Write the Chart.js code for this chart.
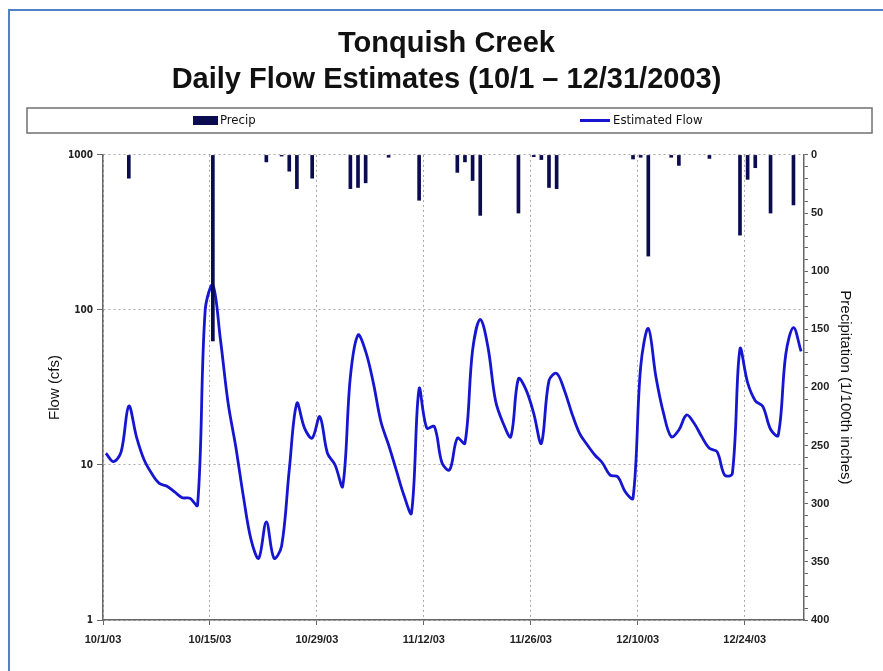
<!DOCTYPE html>
<html>
<head>
<meta charset="utf-8">
<title>Tonquish Creek Daily Flow</title>
<script src="https://cdn.jsdelivr.net/npm/chart.js@4.4.1/dist/chart.umd.min.js"></script>
<style>
  html, body { margin: 0; padding: 0; background: #fff; }
  canvas { display: block; }
</style>
</head>
<body>
<canvas id="flow-chart" width="883" height="671"></canvas>
<script>
// Days counted from 10/1/03; tick marks every two weeks
const tickDays = [0, 14, 28, 42, 56, 70, 84];
const tickLabels = ['10/1/03', '10/15/03', '10/29/03', '11/12/03', '11/26/03', '12/10/03', '12/24/03'];

// Estimated daily flow (cfs), 10/1/03 .. 12/31/03
const flowCfs = [
  11.9, 10.5, 12.2, 24, 15.2, 10.8, 8.8, 7.6, 7.3, 6.7,
  6.15, 6.1, 5.5, 100, 145, 64, 25, 13.1, 6.25, 3.3,
  2.5, 4.3, 2.5, 3.0, 9.3, 25, 17.3, 14.9, 20.5, 11.9,
  10, 7.3, 37, 69, 54, 34, 19, 13.5, 9.3, 6.4,
  4.9, 31, 17.3, 17.7, 10.3, 9.3, 14.9, 13.8, 55, 87,
  58, 26, 18.6, 15.2, 36, 30.5, 21.5, 13.8, 35, 39,
  30.5, 21.5, 16, 13.5, 11.6, 10.3, 8.6, 8.4, 6.7, 6.1,
  43, 76, 37, 21.5, 15.2, 16.8, 21, 18.6, 15.2, 12.8,
  12.2, 8.6, 8.8, 56, 34, 26, 23.8, 17, 15.5, 52,
  77, 54
];

// Days with rain and the amount (1/100th inches)
const precipDays = [3, 14, 21, 23, 24, 25, 27, 32, 33, 34, 37, 41, 46, 47, 48, 49,
  54, 56, 57, 58, 59, 69, 70, 71, 74, 75, 79, 83, 84, 85, 87, 90];
const precipHundredths = [20, 160, 6, 1, 14, 29, 20, 29, 28, 24, 2, 39, 15, 6, 22, 52,
  50, 1.5, 4, 28, 29, 3.5, 2, 87, 2, 9, 3, 69, 21, 11, 50, 43];

const narrow = '"DejaVu Sans Condensed", "Liberation Sans", sans-serif';
const sans = '"Liberation Sans", Arial, sans-serif';
// tick marks sit a little before the day they label
const tickShift = -0.38;

const frame = {
  id: 'frame',
  beforeDraw(chart) {
    const c = chart.ctx;
    c.save();
    c.fillStyle = '#ffffff';
    c.fillRect(0, 0, chart.width, chart.height);
    c.strokeStyle = '#4f81c6';
    c.lineWidth = 2;
    c.strokeRect(9, 10, chart.width + 20, chart.height + 20);
    c.restore();
  }
};

const legendX = [193, 580];

const legendBox = {
  id: 'legendBox',
  afterDraw(chart) {
    const c = chart.ctx;
    const top = 108, bottom = 133, left = 27, right = 872;
    const mid = (top + bottom) / 2;
    c.save();
    c.strokeStyle = '#707070';
    c.lineWidth = 1.5;
    c.strokeRect(left, top, right - left, bottom - top);
    c.font = '13px ' + narrow;
    c.textBaseline = 'middle';
    chart.data.datasets.forEach((ds, i) => {
      const x = legendX[i];
      if (ds.type === 'bar') {
        c.fillStyle = ds.backgroundColor;
        c.fillRect(x, mid - 4.5, 25, 9);
        c.fillStyle = '#111';
        c.fillText(ds.label, x + 27, mid);
      } else {
        c.strokeStyle = ds.borderColor;
        c.lineWidth = 3;
        c.beginPath();
        c.moveTo(x, mid);
        c.lineTo(x + 30, mid);
        c.stroke();
        c.fillStyle = '#111';
        c.fillText(ds.label, x + 33, mid);
      }
    });
    c.restore();
  }
};

const ctx = document.getElementById('flow-chart').getContext('2d');

new Chart(ctx, {
  type: 'bar',
  data: {
    datasets: [
      {
        type: 'bar',
        label: 'Precip',
        data: precipDays.map((d, i) => ({ x: d, y: precipHundredths[i] })),
        backgroundColor: '#0b0b50',
        barThickness: 3,
        yAxisID: 'precip',
        order: 0
      },
      {
        type: 'line',
        label: 'Estimated Flow',
        data: flowCfs.map((v, i) => ({ x: i, y: v })),
        borderColor: '#1616d0',
        borderWidth: 2.8,
        pointRadius: 0,
        tension: 0.35,
        yAxisID: 'flow',
        order: 1
      }
    ]
  },
  options: {
    responsive: false,
    animation: false,
    layout: { padding: { left: 10, right: 0, top: 0, bottom: 0 } },
    plugins: {
      legend: { display: false },
      tooltip: { enabled: false },
      title: {
        display: true,
        text: ['Tonquish Creek', 'Daily Flow Estimates (10/1 \u2013 12/31/2003)'],
        color: '#111',
        font: { family: sans, size: 29, weight: 'bold', lineHeight: 1.24 },
        padding: { top: 26, bottom: 57 }
      }
    },
    scales: {
      x: {
        type: 'linear',
        offset: false,
        min: -0.38,
        max: 91.38,
        afterBuildTicks: (s) => { s.ticks = tickDays.map(d => ({ value: d + tickShift })); },
        afterFit: (s) => { s.height = 51; },
        ticks: {
          autoSkip: false,
          maxRotation: 0,
          padding: 8,
          color: '#222',
          font: { family: sans, size: 11, weight: 'bold' },
          callback: (v, i) => tickLabels[i]
        },
        grid: { offset: false, color: '#a8a8a8', tickColor: '#666', tickLength: 5 },
        border: { color: '#666', width: 1.5, dash: [2, 3] }
      },
      flow: {
        type: 'logarithmic',
        position: 'left',
        min: 1,
        max: 1000,
        afterBuildTicks: (s) => { s.ticks = [1, 10, 100, 1000].map(v => ({ value: v })); },
        afterFit: (s) => { s.width = 93; },
        ticks: {
          padding: 4,
          color: '#222',
          font: { family: narrow, size: 10, weight: 'bold' },
          callback: (v) => String(v)
        },
        grid: { color: '#a8a8a8', tickColor: '#666', tickLength: 6 },
        border: { color: '#666', width: 1.5, dash: [2, 3] },
        title: {
          display: true,
          text: 'Flow (cfs)',
          color: '#111',
          font: { family: sans, size: 15 },
          padding: { top: 36, bottom: 0 }
        }
      },
      precip: {
        type: 'linear',
        position: 'right',
        reverse: true,
        min: 0,
        max: 400,
        afterFit: (s) => { s.width = 79; },
        ticks: {
          stepSize: 10,
          autoSkip: false,
          padding: 3,
          color: '#222',
          font: { family: sans, size: 11, weight: 'bold' },
          callback: (v) => (v % 50 === 0 ? String(v) : '')
        },
        grid: { drawOnChartArea: false, tickColor: '#666', tickLength: 4 },
        border: { color: '#666', width: 1.5 },
        title: {
          display: true,
          text: 'Precipitation (1/100th inches)',
          color: '#111',
          font: { family: sans, size: 15 },
          padding: { top: 29, bottom: 0 }
        }
      }
    }
  },
  plugins: [frame, legendBox]
});
</script>
</body>
</html>
